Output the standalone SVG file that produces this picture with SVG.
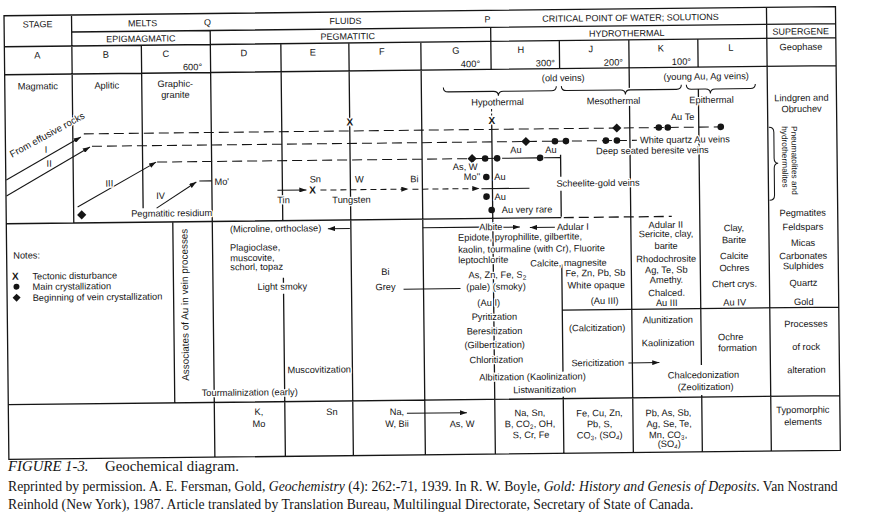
<svg xmlns="http://www.w3.org/2000/svg" width="874" height="530" viewBox="0 0 874 530">
<defs>
<style>
text{font-family:"Liberation Sans",Arial,Helvetica,sans-serif;font-size:9.3px;fill:#151515}
.w text{stroke:#fff;stroke-width:2.6px;stroke-linejoin:round;paint-order:stroke}
.h{font-size:9px}
.c{text-anchor:middle}
.e{text-anchor:end}
.sb{font-size:6.5px}
.g{fill:none;stroke:#151515;stroke-width:1.3}
.ln{fill:none;stroke:#151515;stroke-width:1.05}
.da{stroke-dasharray:10 5}
.ds{stroke-dasharray:6 4}
.xm{font-weight:bold;font-size:10px;text-anchor:middle}
.cap{font-family:"Liberation Serif","Times New Roman",serif;fill:#151515}
.c14{font-size:14.8px}
.c12{font-size:13.7px}
.r8{font-size:8.3px}
.r95{font-size:9.6px}
.r99{font-size:9.9px}
</style>
<marker id="ah" viewBox="0 0 10 7" refX="10" refY="3.5" markerWidth="7.5" markerHeight="5" markerUnits="userSpaceOnUse" orient="auto"><path d="M0,0 L10,3.5 L0,7 Z" fill="#151515"/></marker>
<circle id="dot" r="3.3" fill="#151515"/>
<path id="dia" d="M0,-4.6 L4.6,0 L0,4.6 L-4.6,0 Z" fill="#151515"/>
</defs>
<rect width="874" height="530" fill="#fff"/>
<g transform="rotate(-0.63 437 240)">
<g id="grid">
<path class="g" d="M6.5,11 H838 V454.7 H6.5 Z M74,28 H838 M6.5,42 H838 M6.5,70 H838 M6.5,219 H561.5 M561.5,311.5 H838 M6.5,400 H838 M74,11 V219 M143.5,42 V205 M212.5,28 V454.7 M173,219 V400 M283,42 V219 M283,276 V281 M283,292 V454.7 M351,42 V454.7 M423,42 V454.7 M493,28 V70 M493,124 V454.7 M561.5,42 V70 M561.5,156 V178 M561.5,192 V218 M561.5,266 V373 M561.5,398 V454.7 M631,42 V90 M631,108 V454.7 M700,42 V70 M700,92 V368 M700,398 V454.7 M769,11 V454.7"/>
<path class="g da" d="M564,219 H672"/>
<path class="ln" stroke-dasharray="2.5 2" d="M493,109.5 V116"/>
</g>
<g id="connectors">
<path class="ln" d="M445,87.5 q0,4.5 5,4.5 H495 q5,0 5,4.5 q0,-4.5 5,-4.5 H553 q5,0 5,-4.5"/>
<path class="ln" d="M563,87.5 q0,4.5 5,4.5 H622 q5,0 5,4.5 q0,-4.5 5,-4.5 H678 q5,0 5,-4.5"/>
<path class="ln" d="M688,87.5 q0,4.5 5,4.5 H707 q5,0 5,4.5 q0,-4.5 5,-4.5 H752 q5,0 5,-4.5"/>
<path class="ln" d="M770,131 q5,0 5,5 V162 q0,5 4,5 q-4,0 -4,5 V199 q0,5 -5,5"/>
<path class="ln" marker-end="url(#ah)" d="M7,175.3 L82,133.1"/>
<path class="ln" marker-end="url(#ah)" d="M7,191.2 L91,143.2"/>
<path class="ln" marker-end="url(#ah)" d="M78,203 L157,159"/>
<path class="ln" marker-end="url(#ah)" d="M157,205 L197,179.4"/>
<path class="ln da" d="M85,130 H722"/>
<path class="ln da" d="M93,142.5 H638"/>
<path class="ln da" d="M158,159 H503"/>
<path class="ln" d="M503,159 H538 M545,159 H561"/>
<path class="ln" d="M200,178.4 H212.5"/>
<path class="ln" marker-end="url(#ah)" d="M278,188.5 H307"/>
<path class="ln ds" marker-end="url(#ah)" d="M321,188.8 H409"/>
<path class="ln ds" marker-end="url(#ah)" d="M413,189 H480"/>
<path class="ln" d="M482,189.2 H530"/>
<path class="ln" marker-end="url(#ah)" d="M350,227.5 H328"/>
<path class="ln" d="M423,227.6 H480"/>
<path class="ln" marker-end="url(#ah)" d="M501,228 H520"/>
<path class="ln" marker-end="url(#ah)" d="M555,228.5 H530"/>
<path class="ln" d="M403,288.8 H460"/>
<path class="ln" marker-end="url(#ah)" d="M627,365 H658"/>
<path class="ln" marker-end="url(#ah)" d="M405,413 H465"/>
</g>
<g id="marks">
<use href="#dia" x="618" y="130"/><use href="#dot" x="660" y="130"/><use href="#dot" x="669" y="130"/><use href="#dot" x="722" y="130"/>
<use href="#dia" x="527" y="142.5"/><use href="#dot" x="556" y="142.5"/><use href="#dot" x="567" y="142.5"/><use href="#dot" x="607" y="142.5"/><use href="#dot" x="618" y="142.5"/>
<use href="#dia" x="473" y="159"/><use href="#dot" x="486" y="159"/><use href="#dot" x="498" y="159"/><use href="#dot" x="541" y="159"/>
<use href="#dot" x="487" y="177.5"/><use href="#dot" x="487" y="197.2"/><use href="#dot" x="492" y="210.6"/>
<use href="#dia" x="82" y="211"/>
<circle cx="16" cy="282" r="3" fill="#151515"/>
<path d="M16,289 L20,293 L16,297 L12,293 Z" fill="#151515"/>
</g>
<g id="header" class="w">
<text class="h c" x="40" y="23">STAGE</text>
<text class="h c" x="145" y="23">MELTS</text>
<text class="h c" x="210" y="23">Q</text>
<text class="h c" x="348" y="23">FLUIDS</text>
<text class="h c" x="490" y="23">P</text>
<text class="h c" x="633" y="23">CRITICAL POINT OF WATER; SOLUTIONS</text>
<text class="h c" x="143" y="38.5">EPIGMAGMATIC</text>
<text class="h c" x="350" y="38.5">PEGMATITIC</text>
<text class="h c" x="629" y="38.5">HYDROTHERMAL</text>
<text class="h c" x="803" y="38.5">SUPERGENE</text>
</g>
<g id="stages" class="w">
<text class="c" x="39.5" y="54">A</text><text class="c" x="108" y="54">B</text><text class="c" x="168" y="54">C</text>
<text class="c" x="246" y="54">D</text><text class="c" x="315" y="54">E</text><text class="c" x="384" y="54">F</text>
<text class="c" x="458" y="54">G</text><text class="c" x="523" y="54">H</text><text class="c" x="593" y="54">J</text>
<text class="c" x="663" y="54">K</text><text class="c" x="733" y="54">L</text><text class="c" x="803" y="54">Geophase</text>
<text class="e" x="204" y="67.5">600°</text><text class="e" x="482" y="67.5">400°</text><text class="e" x="557" y="67.5">300°</text>
<text class="e" x="625" y="67.5">200°</text><text class="e" x="693" y="67.5">100°</text>
</g>
<g id="phases" class="w">
<text class="c" x="39.5" y="85">Magmatic</text>
<text class="c" x="108.5" y="85">Aplitic</text>
<text class="c" x="177" y="84">Graphic-</text>
<text class="c" x="177" y="95">granite</text>
<text class="c" x="565" y="82.5">(old veins)</text>
<text class="c" x="708" y="82.5">(young Au, Ag veins)</text>
<text class="c" x="499" y="106">Hypothermal</text>
<text class="c" x="615" y="106">Mesothermal</text>
<text class="c" x="713" y="106">Epithermal</text>
<text class="c" x="803" y="105">Lindgren and</text>
<text class="c" x="803" y="116">Obruchev</text>
<text class="r8" x="0" y="0" transform="translate(792.5,130) rotate(90)">Pneumatolites and</text>
<text class="r8" x="0" y="0" transform="translate(783,130) rotate(90)">hydrothermalites</text>
<text class="c" x="803" y="220">Pegmatites</text>
</g>
<g id="veins" class="w">
<text class="r95" x="0" y="0" transform="translate(13,153) rotate(-28)">From effusive rocks</text>
<text class="c" x="47" y="148.5">I</text>
<text class="c" x="50" y="162.5">II</text>
<text class="c" x="110" y="183">III</text>
<text class="c" x="161" y="196">IV</text>
<text x="215" y="182.5">Mo'</text>
<text class="c" x="172" y="213.5">Pegmatitic residium</text>
<text class="c" x="284" y="201.5">Tin</text>
<text class="c" x="316" y="181">Sn</text>
<text class="c" x="360" y="181.5">W</text>
<text class="c" x="415" y="182">Bi</text>
<text class="c" x="352" y="202">Tungsten</text>
<text class="xm" x="351" y="124.6">X</text>
<text class="xm" x="493" y="124.6">X</text>
<text class="xm" x="313" y="192.1">X</text>
<text class="c" x="466" y="170.3">As, W</text>
<text class="e" x="481" y="180.3">Mo''</text>
<text x="495" y="180.6">Au</text>
<text x="495" y="200.6">Au</text>
<text x="502" y="213.7">Au very rare</text>
<text class="c" x="517" y="154">Au</text>
<text class="c" x="552" y="154.3">Au</text>
<text class="c" x="684" y="122.7">Au Te</text>
<text x="641" y="145.5">White quartz Au veins</text>
<text x="597" y="156">Deep seated beresite veins</text>
<text x="557" y="188">Scheelite-gold veins</text>
</g>
<g id="notes" class="w">
<text x="13" y="254">Notes:</text>
<text class="xm" x="15" y="275">X</text>
<text x="32" y="275">Tectonic disturbance</text>
<text x="32" y="285.5">Main crystallization</text>
<text x="32" y="296.5">Beginning of vein crystallization</text>
<text class="c r99" x="0" y="0" transform="translate(187.5,302) rotate(-90)">Associates of Au in vein processes</text>
</g>
<g id="minerals" class="w">
<text x="230" y="230">(Microline, orthoclase)</text>
<text x="230" y="248.6">Plagioclase,</text>
<text x="230" y="259">muscovite,</text>
<text x="230" y="268">schorl, topaz</text>
<text x="257" y="288">Light smoky</text>
<text class="c" x="385" y="274.4">Bi</text>
<text class="c" x="385" y="289.5">Grey</text>
<text x="286" y="371.5">Muscovitization</text>
<text class="c" x="248" y="393.5">Tourmalinization (early)</text>
<text class="c" x="491" y="230.7">Albite</text>
<text x="557" y="231.5">Adular I</text>
<text x="458" y="241">Epidote, pyrophillite, gilbertite,</text>
<text x="458" y="253">kaolin, tourmaline (with Cr), Fluorite</text>
<text x="458" y="263.5">leptochlorite</text>
<text x="530" y="267.5">Calcite, magnesite</text>
<text class="c" x="497" y="278.6">As, Zn, Fe, S<tspan class="sb" dy="2">2</tspan></text>
<text class="c" x="495.5" y="290.5">(pale) (smoky)</text>
<text class="c" x="488" y="306.5">(Au I)</text>
<text class="c" x="493.5" y="320.5">Pyritization</text>
<text class="c" x="493.5" y="334.8">Beresitization</text>
<text class="c" x="493.5" y="348.5">(Gilbertization)</text>
<text class="c" x="495" y="363.5">Chloritization</text>
<text class="c" x="531" y="381">Albitization (Kaolinization)</text>
<text class="c" x="543" y="394">Listwanitization</text>
<text x="565" y="277.8">Fe, Zn, Pb, Sb</text>
<text x="567" y="290">White opaque</text>
<text class="c" x="604" y="305.8">(Au III)</text>
<text x="568" y="332.8">(Calcitization)</text>
<text x="570" y="367.8">Sericitization</text>
<text class="c" x="666" y="230.5">Adular II</text>
<text class="c" x="666" y="239.5">Sericite, clay,</text>
<text class="c" x="666" y="251.5">barite</text>
<text class="c" x="666" y="264.5">Rhodochrosite</text>
<text class="c" x="666" y="275.5">Ag, Te, Sb</text>
<text class="c" x="666" y="285.5">Amethy.</text>
<text class="c" x="666" y="298.5">Chalced.</text>
<text class="c" x="666" y="308.5">Au III</text>
<text class="c" x="667" y="325.5">Alunitization</text>
<text class="c" x="667" y="348.5">Kaolinization</text>
<text class="c" x="734" y="234.3">Clay,</text>
<text class="c" x="734" y="246.3">Barite</text>
<text class="c" x="734" y="262.3">Calcite</text>
<text class="c" x="734" y="274.3">Ochres</text>
<text class="c" x="734" y="290.3">Chert crys.</text>
<text class="c" x="734" y="308.8">Au IV</text>
<text x="717" y="343.3">Ochre</text>
<text x="717" y="354.3">formation</text>
<text class="c" x="702" y="381">Chalcedonization</text>
<text class="c" x="704" y="393">(Zeolitization)</text>
</g>
<g id="geophase" class="w">
<text class="c" x="803" y="234">Feldspars</text>
<text class="c" x="803" y="250">Micas</text>
<text class="c" x="803" y="263">Carbonates</text>
<text class="c" x="803" y="273">Sulphides</text>
<text class="c" x="803" y="290">Quartz</text>
<text class="c" x="803" y="309">Gold</text>
<text class="c" x="805" y="331">Processes</text>
<text class="c" x="805" y="354">of rock</text>
<text class="c" x="805" y="377">alteration</text>
<text class="c" x="801" y="417">Typomorphic</text>
<text class="c" x="801" y="429">elements</text>
</g>
<g id="typomorphic" class="w">
<text class="c" x="257" y="413">K,</text>
<text class="c" x="257" y="425">Mo</text>
<text class="c" x="330" y="413.8">Sn</text>
<text class="c" x="395" y="414.5">Na,</text>
<text class="c" x="395" y="426.5">W, Bii</text>
<text class="c" x="460" y="427.3">As, W</text>
<text class="c" x="528" y="417">Na, Sn,</text>
<text class="c" x="528" y="428">B, CO<tspan class="sb" dy="2">2</tspan><tspan dy="-2">, OH,</tspan></text>
<text class="c" x="529" y="439">S, Cr, Fe</text>
<text class="c" x="597.5" y="418">Fe, Cu, Zn,</text>
<text class="c" x="597.5" y="429">Pb, S,</text>
<text class="c" x="597.5" y="440">CO<tspan class="sb" dy="2">3</tspan><tspan dy="-2">, (SO</tspan><tspan class="sb" dy="2">4</tspan><tspan dy="-2">)</tspan></text>
<text class="c" x="666.5" y="418.5">Pb, As, Sb,</text>
<text class="c" x="667" y="429.5">Ag, Se, Te,</text>
<text class="c" x="666" y="440.5">Mn, CO<tspan class="sb" dy="2">3</tspan><tspan dy="-2">,</tspan></text>
<text class="c" x="667" y="449.5">(SO<tspan class="sb" dy="2">4</tspan><tspan dy="-2">)</tspan></text>
</g>
</g>
<g id="caption">
<text class="cap c14" x="8" y="471"><tspan font-style="italic">FIGURE 1-3.</tspan><tspan x="105">Geochemical diagram.</tspan></text>
<text class="cap c12" x="8" y="490.5">Reprinted by permission. A. E. Fersman, Gold, <tspan font-style="italic">Geochemistry</tspan> (4): 262:-71, 1939. In R. W. Boyle, <tspan font-style="italic">Gold: History and Genesis of Deposits</tspan>. Van Nostrand</text>
<text class="cap c12" x="8" y="508.5">Reinhold (New York), 1987. Article translated by Translation Bureau, Multilingual Directorate, Secretary of State of Canada.</text>
</g>
</svg>
